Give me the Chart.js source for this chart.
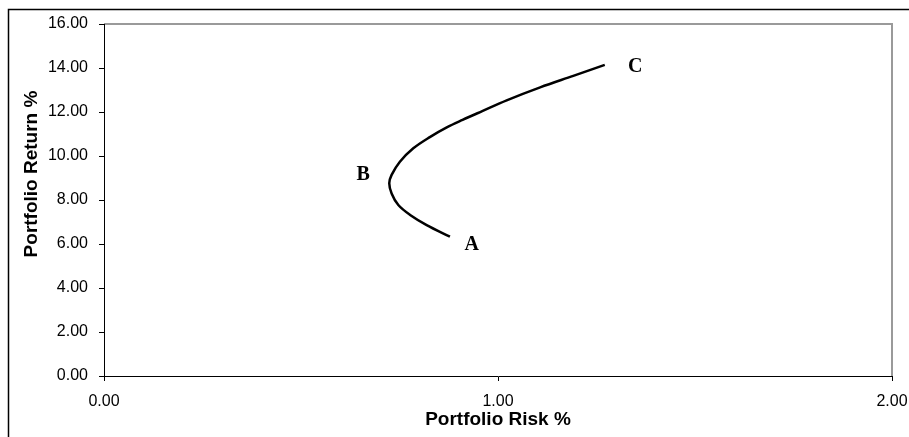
<!DOCTYPE html>
<html>
<head>
<meta charset="utf-8">
<script src="https://cdn.jsdelivr.net/npm/chart.js@4/dist/chart.umd.min.js"></script>
<style>
  html, body { margin: 0; padding: 0; background: #fff; }
  #wrap { position: relative; width: 909px; height: 437px; }
</style>
</head>
<body>
<div id="wrap"><canvas id="chart" width="909" height="437"></canvas></div>
<script>
// frontier curve, from A down round B and up to C
const riskPct = [0.878, 0.819, 0.777, 0.747, 0.730, 0.724, 0.730, 0.751, 0.785, 0.827, 0.870, 0.910, 0.960, 1.022, 1.107, 1.191, 1.271];
const returnPct = [6.33, 6.86, 7.32, 7.77, 8.30, 8.76, 9.14, 9.74, 10.35, 10.86, 11.30, 11.64, 12.04, 12.53, 13.12, 13.64, 14.14];

// point labels
const pointNames = ['A', 'B', 'C'];
const pointRisk = [0.933, 0.658, 1.348];
const pointReturn = [5.95, 9.14, 14.06];

const xTicks = [0, 1, 2];
const yTicks = [0, 2, 4, 6, 8, 10, 12, 14, 16];

const decorPlugin = {
  id: 'decor',
  beforeDraw(chart) {
    const { ctx, chartArea } = chart;
    ctx.save();
    // outer frame
    ctx.strokeStyle = '#000';
    ctx.lineWidth = 1.5;
    ctx.beginPath();
    ctx.moveTo(8.5, 440);
    ctx.lineTo(8.5, 9.5);
    ctx.lineTo(912, 9.5);
    ctx.stroke();
    // grey plot border top and right
    ctx.strokeStyle = '#9a9a9a';
    ctx.lineWidth = 2;
    ctx.beginPath();
    ctx.moveTo(chartArea.left, chartArea.top);
    ctx.lineTo(chartArea.right, chartArea.top);
    ctx.lineTo(chartArea.right, chartArea.bottom);
    ctx.stroke();
    ctx.restore();
  },
  afterDraw(chart) {
    const { ctx, chartArea, scales } = chart;
    ctx.save();
    ctx.fillStyle = '#000';
    ctx.textAlign = 'center';
    ctx.textBaseline = 'middle';
    // axis titles
    ctx.font = 'bold 19px "Liberation Sans", Arial, sans-serif';
    ctx.fillText('Portfolio Risk %', (chartArea.left + chartArea.right) / 2, 420);
    ctx.save();
    ctx.translate(32, 174);
    ctx.rotate(-Math.PI / 2);
    ctx.fillText('Portfolio Return %', 0, 0);
    ctx.restore();
    // A, B, C
    ctx.font = 'bold 20px "Liberation Serif", "Times New Roman", serif';
    pointNames.forEach((n, i) => {
      ctx.fillText(n, scales.x.getPixelForValue(pointRisk[i]), scales.y.getPixelForValue(pointReturn[i]));
    });
    ctx.restore();
  }
};

const ctx = document.getElementById('chart').getContext('2d');
new Chart(ctx, {
  type: 'scatter',
  data: {
    datasets: [
      {
        data: riskPct.map((r, i) => ({ x: r, y: returnPct[i] })),
        showLine: true,
        borderColor: '#000',
        borderWidth: 2.5,
        pointRadius: 0,
        tension: 0.35,
        fill: false,
      },
    ],
  },
  options: {
    responsive: false,
    animation: false,
    layout: { padding: { left: 0, top: 24, right: 0, bottom: 0 } },
    plugins: { legend: { display: false }, tooltip: { enabled: false } },
    scales: {
      x: {
        type: 'linear',
        min: 0,
        max: 2,
        afterBuildTicks: (s) => { s.ticks = xTicks.map((v) => ({ value: v })); },
        afterFit: (s) => { s.height = 61; s.paddingRight = 17; },
        grid: { drawOnChartArea: false, tickLength: 5, color: '#000' },
        border: { color: '#000', width: 1 },
        ticks: {
          color: '#000',
          padding: 11,
          maxRotation: 0,
          font: { family: '"Liberation Sans", Arial, sans-serif', size: 16 },
          callback: (v) => Number(v).toFixed(2),
        },
      },
      y: {
        type: 'linear',
        min: 0,
        max: 16,
        afterBuildTicks: (s) => { s.ticks = yTicks.map((v) => ({ value: v })); },
        afterFit: (s) => { s.width = 104; },
        grid: { drawOnChartArea: false, tickLength: 5, color: '#000' },
        border: { color: '#000', width: 1 },
        ticks: {
          color: '#000',
          padding: 11,
          font: { family: '"Liberation Sans", Arial, sans-serif', size: 16 },
          callback: (v) => Number(v).toFixed(2),
        },
      },
    },
  },
  plugins: [decorPlugin],
});
</script>
</body>
</html>
